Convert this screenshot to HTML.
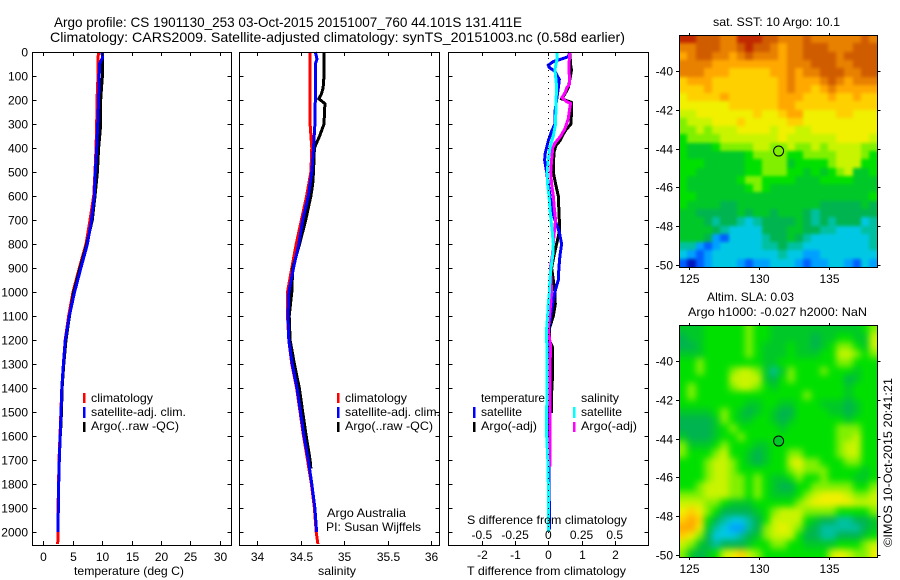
<!DOCTYPE html>
<html>
<head>
<meta charset="utf-8">
<title>Argo profile</title>
<style>
html,body{margin:0;padding:0;background:#fff;}
svg{display:block;}
text{font-family:"Liberation Sans",sans-serif;font-size:12px;fill:#000;}
</style>
</head>
<body>
<svg id="fig" width="900" height="580" viewBox="0 0 900 580" xmlns="http://www.w3.org/2000/svg">
<defs>
<filter id="sst-soften" x="-10%" y="-10%" width="120%" height="120%" color-interpolation-filters="sRGB"><feGaussianBlur stdDeviation="1.5"/></filter>
<filter id="sla-soften" x="-10%" y="-10%" width="120%" height="120%" color-interpolation-filters="sRGB"><feGaussianBlur stdDeviation="3.5"/></filter>
<clipPath id="sst-clip"><rect x="679" y="35" width="198" height="232"/></clipPath>
<clipPath id="sla-clip"><rect x="679" y="325" width="198" height="232"/></clipPath>
</defs>
<rect width="900" height="580" fill="#fff"/>
<text x="54" y="27" style="font-size:14px" textLength="468" lengthAdjust="spacingAndGlyphs">Argo profile: CS 1901130_253 03-Oct-2015 20151007_760 44.101S 131.411E</text>
<text x="50" y="42" style="font-size:14px" textLength="575" lengthAdjust="spacingAndGlyphs">Climatology: CARS2009. Satellite-adjusted climatology: synTS_20151003.nc (0.58d earlier)</text>
<g id="layer-maps"></g>
<g id="layer-lines"></g>
<g id="layer-axes"></g>

<text x="74" y="575" textLength="110" lengthAdjust="spacingAndGlyphs">temperature (deg C)</text>
<text x="318" y="575" textLength="38" lengthAdjust="spacingAndGlyphs">salinity</text>
<text x="467" y="575" textLength="159" lengthAdjust="spacingAndGlyphs">T difference from climatology</text>
<text x="467" y="524" textLength="160" lengthAdjust="spacingAndGlyphs">S difference from climatology</text>

<g>
<rect x="83" y="393" width="2.5" height="10" fill="#f00"/>
<rect x="83" y="407" width="2.5" height="11" fill="#00f"/>
<rect x="83" y="422" width="2.5" height="10" fill="#000"/>
<text x="91" y="402" textLength="62" lengthAdjust="spacingAndGlyphs">climatology</text>
<text x="91" y="416" textLength="95" lengthAdjust="spacingAndGlyphs">satellite-adj. clim.</text>
<text x="91" y="430" textLength="88" lengthAdjust="spacingAndGlyphs">Argo(..raw -QC)</text>
</g>
<g>
<rect x="337" y="393" width="2.5" height="10" fill="#f00"/>
<rect x="337" y="407" width="2.5" height="11" fill="#00f"/>
<rect x="337" y="422" width="2.5" height="10" fill="#000"/>
<text x="345" y="402" textLength="62" lengthAdjust="spacingAndGlyphs">climatology</text>
<text x="345" y="416" textLength="95" lengthAdjust="spacingAndGlyphs">satellite-adj. clim.</text>
<text x="345" y="430" textLength="88" lengthAdjust="spacingAndGlyphs">Argo(..raw -QC)</text>
<text x="327" y="517" textLength="79" lengthAdjust="spacingAndGlyphs">Argo Australia</text>
<text x="326" y="531" textLength="95" lengthAdjust="spacingAndGlyphs">PI: Susan Wijffels</text>
</g>
<g>
<text x="481" y="402" textLength="64" lengthAdjust="spacingAndGlyphs">temperature</text>
<rect x="473" y="407" width="2.5" height="11" fill="#00f"/>
<rect x="473" y="422" width="2.5" height="10" fill="#000"/>
<text x="481" y="416" textLength="41" lengthAdjust="spacingAndGlyphs">satellite</text>
<text x="481" y="430" textLength="56" lengthAdjust="spacingAndGlyphs">Argo(-adj)</text>
<text x="581" y="402" textLength="38" lengthAdjust="spacingAndGlyphs">salinity</text>
<rect x="573" y="407" width="2.5" height="11" fill="#0ff"/>
<rect x="573" y="422" width="2.5" height="10" fill="#f0f"/>
<text x="581" y="416" textLength="41" lengthAdjust="spacingAndGlyphs">satellite</text>
<text x="581" y="430" textLength="56" lengthAdjust="spacingAndGlyphs">Argo(-adj)</text>
</g>

<text x="713" y="26" textLength="127" lengthAdjust="spacingAndGlyphs">sat. SST: 10 Argo: 10.1</text>
<text x="707" y="301" textLength="87" lengthAdjust="spacingAndGlyphs">Altim. SLA: 0.03</text>
<text x="688" y="316" textLength="179" lengthAdjust="spacingAndGlyphs">Argo h1000: -0.027 h2000: NaN</text>
<text transform="translate(892,547) rotate(-90)" x="0" y="0" textLength="169" lengthAdjust="spacingAndGlyphs">©IMOS 10-Oct-2015 20:41:21</text>
</svg>

<script>
/* ---------- profile data ---------- */
const depthTicks = [0,100,200,300,400,500,600,700,800,900,1000,1100,1200,1300,1400,1500,1600,1700,1800,1900,2000];
const tempTicks = [0,5,10,15,20,25,30];
const salTicks = [34,34.5,35,35.5,36];
const salTickLabels = ["34","34.5","35","35.5","36"];
const tDiffTicks = [-2,-1,0,1,2];
const sDiffTicks = [-0.5,-0.25,0,0.25,0.5];
const sDiffTickLabels = ["-0.5","-0.25","0","0.25","0.5"];
const lonTicks = [125,130,135];
const latTicks = [-40,-42,-44,-46,-48,-50];

const climDepths = [0,100,200,300,400,500,600,700,800,900,1000,1100,1200,1300,1400,1500,1600,1700,1800,1900,2000,2050];
const tempClim = [9.35,9.3,9.13,9.08,8.96,8.8,8.57,7.94,7.26,6.12,5.05,4.3,3.72,3.42,3.15,3.0,2.84,2.67,2.6,2.5,2.5,2.45];
const salClim = [34.61,34.61,34.61,34.61,34.63,34.62,34.57,34.51,34.45,34.4,34.35,34.35,34.365,34.40,34.455,34.495,34.535,34.58,34.625,34.66,34.68,34.70];

const tempSatDepths = [0,25,50,100,200,300,400,500,600,700,800,900,1000,1100,1200,1300,1400,1500,1600,1700,1800,1900,2000];
const tempSat = [10.1,10.05,9.55,9.5,9.4,9.25,9.08,8.85,8.67,8.2,7.5,6.4,5.33,4.42,3.74,3.42,3.15,3.02,2.88,2.72,2.62,2.55,2.52];
const tempArgoDepths = [0,50,100,150,200,300,350,400,500,600,700,800,900,1000,1100,1200,1300,1400,1500,1600];
const tempArgo = [10.0,10.1,10.05,9.9,9.76,9.76,9.6,9.4,9.2,8.8,8.33,7.38,6.24,5.17,4.45,3.86,3.48,3.2,3.1,2.9];

const salSatDepths = [0,15,30,50,100,200,300,400,500,600,700,800,900,1000,1100,1200,1300,1400,1500,1600,1700,1800,1900,2000];
const salSat = [34.67,34.68,34.69,34.67,34.67,34.67,34.665,34.65,34.63,34.59,34.525,34.48,34.42,34.365,34.356,34.365,34.405,34.46,34.5,34.54,34.59,34.63,34.665,34.685];
const salArgoDepths = [0,100,150,175,195,215,300,350,400,500,550,600,700,800,900,1000,1100,1200,1300,1400,1500,1600,1700,1735];
const salArgo = [34.77,34.77,34.76,34.74,34.71,34.78,34.77,34.72,34.66,34.65,34.64,34.62,34.56,34.49,34.41,34.40,34.37,34.38,34.43,34.486,34.525,34.565,34.61,34.62];

const tDiffSatDepths = [0,20,40,55,65,80,115,150,200,250,300,330,370,420,450,500,550,600,650,700,750,800,850,900,950,1000,1033,1089,1144,1200,1300,1500,1700,1900,1990];
const tDiffSat = [0.65,0.6,0.15,0,0.03,0.2,0.33,0.3,0.25,0.2,0.2,0.1,0,-0.09,-0.11,-0.05,0,0.05,0.1,0.2,0.33,0.4,0.35,0.32,0.3,0.2,0.15,0.08,0.02,0,0,0,0.02,0.03,0.03];
const tDiffArgoDepths = [0,50,75,100,150,175,195,210,250,300,330,370,390,420,500,550,600,700,750,800,850,900,950,1000,1050,1100,1150,1200,1228,1367,1422,1505];
const tDiffArgo = [0.65,0.67,0.7,0.67,0.6,0.5,0.4,0.7,0.7,0.68,0.5,0.35,0.23,0.17,0.15,0.22,0.3,0.33,0.33,0.25,0.17,0.1,0.15,0.2,0.21,0.15,0.04,0.03,0.12,0.12,0.1,0.1];
const sDiffArgoDepths = [0,50,100,135,150,170,190,205,215,230,280,320,350,380,400,450,500,550,600,650,700,750,800,850,900,950,1000,1050,1100,1158,1228,1300,1727];
const sDiffArgo = [0.163,0.156,0.158,0.158,0.138,0.126,0.103,0.133,0.168,0.163,0.15,0.125,0.093,0.05,0.033,0.025,0.018,0.025,0.038,0.045,0.055,0.045,0.038,0.03,0.015,0.02,0.025,0.018,0.008,0,0.018,0.0125,0.0125];
const sDiffSatDepths = [0,25,50,75,100,150,200,300,350,400,450,500,550,600,650,700,750,800,850,900,950,1000,1050,1100,1150,1200,1300,1400,1500,1600,1700,1800,2000];
const sDiffSat = [0.063,0.068,0.058,0.05,0.055,0.063,0.058,0.055,0.038,0.012,0,-0.008,-0.005,0.005,0.012,0.02,0.03,0.038,0.033,0.02,0.012,0.008,0,-0.005,-0.012,-0.012,-0.008,-0.008,-0.0125,-0.012,-0.004,0,0];

/* ---------- map data: colour-class values, read cell by cell, north to south ---------- */
const sstGrid = [
[15,15,14,14,14,13,13,15,15,15,14,14,13,13,13,14,13,13,13,13,13,13,14,13],
[13,13,14,14,14,13,13,14,15,14,14,13,12,13,13,14,14,14,13,13,13,14,14,14],
[12,13,14,14,13,13,12,13,14,13,13,13,12,13,13,14,14,14,14,13,14,14,14,14],
[13,13,13,13,12,12,12,12,12,12,12,12,12,13,13,13,14,14,14,13,13,14,14,14],
[13,13,13,12,12,12,11,11,11,11,11,12,12,13,12,13,13,14,14,14,13,13,14,14],
[11,12,12,12,11,11,11,11,11,11,11,11,12,13,12,12,12,13,14,13,12,13,13,13],
[11,11,11,12,11,11,11,11,11,11,11,11,12,13,12,12,11,12,13,12,12,12,12,12],
[10,11,11,11,11,12,11,11,11,11,11,11,12,12,12,11,11,11,12,11,11,12,11,11],
[10,10,10,10,10,10,11,11,11,11,11,11,12,12,11,11,11,11,11,11,11,11,11,11],
[9,9,10,10,10,10,10,10,10,11,10,10,11,12,12,10,10,10,10,11,11,10,10,10],
[8,9,9,9,10,10,10,11,10,10,10,10,10,11,11,10,10,10,10,10,10,10,10,10],
[8,8,9,8,9,9,9,10,10,10,10,9,10,10,9,9,10,10,10,10,10,10,10,10],
[7,8,8,8,8,9,9,9,9,9,9,9,10,9,9,9,9,9,9,10,10,10,10,9],
[7,6,6,6,7,8,8,8,8,9,9,8,8,9,8,8,9,8,9,9,9,9,8,8],
[7,6,6,6,6,6,6,6,7,8,8,8,8,7,7,8,8,8,8,9,9,9,8,7],
[7,7,7,6,6,6,6,6,7,7,8,8,8,6,7,7,7,7,8,9,9,9,7,7],
[7,7,6,6,6,6,6,6,7,7,8,8,8,7,7,6,7,6,7,8,9,6,6,7],
[7,6,6,6,6,6,6,7,8,8,7,7,7,7,6,6,6,7,7,7,7,6,6,6],
[7,6,6,6,6,6,6,6,7,8,7,6,6,6,6,6,6,6,6,6,6,6,6,6],
[7,7,6,6,6,6,6,6,6,6,6,6,6,6,6,6,6,6,6,6,6,6,6,7],
[7,6,6,6,6,5,5,6,6,6,6,6,6,6,6,6,6,5,5,5,5,5,6,5],
[6,6,5,5,5,5,5,6,5,6,6,5,6,6,6,5,4,5,5,5,5,5,5,5],
[6,6,6,5,4,5,5,4,3,4,5,5,5,5,6,5,4,5,4,5,5,5,3,4],
[6,6,6,6,5,4,3,3,3,3,5,5,5,6,6,5,5,4,4,3,3,3,4,4],
[6,6,6,5,2,1,3,3,3,3,4,5,5,6,5,4,3,3,3,3,3,3,3,4],
[4,4,2,1,2,3,3,3,3,3,4,4,5,4,4,3,3,3,3,3,3,3,3,4],
[3,2,1,2,3,3,3,3,3,3,3,3,4,3,3,2,2,3,3,3,3,3,3,3],
[1,0,1,2,3,3,3,2,1,2,2,3,3,3,2,1,2,2,3,3,2,1,3,2]
];
const slaGrid = [
[6,6,6,7,7,7,7,7,8,7,7,6,6,6,6,6,6,6,6,6,6,6,7,8],
[5,6,6,7,7,7,7,7,8,7,7,6,6,6,6,6,5,6,6,7,7,6,6,9],
[5,5,6,7,7,7,7,7,8,7,6,6,6,7,6,6,5,6,7,8,8,7,6,9],
[6,6,6,7,7,7,7,7,8,7,6,6,6,7,6,6,6,7,7,9,9,8,7,8],
[7,7,8,7,7,7,7,7,7,7,6,6,7,7,7,7,7,7,7,8,8,7,7,7],
[7,7,8,7,7,7,8,9,9,8,6,4,6,8,7,7,7,8,7,7,7,6,7,7],
[7,7,7,7,7,7,9,9,9,9,6,5,7,8,7,7,7,7,7,7,5,6,7,7],
[7,8,7,7,7,7,8,9,9,8,7,6,7,7,7,7,7,7,7,7,6,7,7,7],
[7,8,7,7,7,7,7,7,7,7,7,7,7,7,7,8,7,7,7,7,6,7,7,7],
[7,7,7,7,7,7,7,7,6,6,7,7,6,6,7,7,7,6,6,6,5,6,7,7],
[6,6,6,6,7,8,7,6,5,6,7,6,5,5,7,7,7,7,6,6,5,6,7,7],
[5,5,5,5,6,8,7,6,6,7,7,6,5,6,7,7,7,7,7,7,6,7,7,7],
[5,5,5,5,6,7,8,7,7,7,7,7,6,7,7,7,7,7,7,8,8,8,7,7],
[6,5,5,5,6,7,7,8,7,7,7,7,7,7,7,7,7,7,7,8,8,9,7,7],
[8,6,6,6,7,8,7,7,7,6,6,7,7,7,7,7,7,7,7,8,9,9,7,7],
[8,7,7,7,8,9,7,7,6,5,6,7,7,8,8,7,7,7,7,8,9,9,7,7],
[7,7,7,8,9,9,8,7,6,5,6,7,7,9,10,8,8,7,7,7,8,8,7,7],
[7,7,7,8,9,9,8,7,7,7,7,7,7,8,9,8,8,8,7,7,7,7,6,7],
[7,7,7,8,9,9,8,8,7,8,7,6,6,7,8,7,7,8,7,7,7,6,6,7],
[7,7,8,9,9,9,8,8,7,8,7,6,5,5,7,7,8,8,8,8,8,7,7,8],
[8,8,8,9,9,9,8,8,7,8,7,6,6,6,7,8,9,10,10,10,9,8,8,9],
[9,9,9,8,8,7,6,6,6,7,7,7,7,7,8,9,10,10,10,10,10,9,9,9],
[10,11,10,8,7,5,5,5,5,6,7,8,9,9,9,8,8,8,8,7,7,7,7,8],
[11,12,11,7,5,4,3,3,4,5,7,9,9,9,9,7,6,5,5,4,4,5,5,6],
[12,12,10,6,4,3,2,2,4,5,8,9,10,9,8,6,5,4,4,4,4,4,5,6],
[11,10,8,5,3,3,3,4,5,6,8,9,9,9,7,5,5,4,4,5,5,5,6,7],
[9,8,6,5,4,5,5,5,6,7,7,8,8,7,7,6,6,6,6,7,7,7,8,9],
[8,6,5,6,7,9,10,11,9,8,7,7,7,7,7,7,7,7,9,10,9,8,8,10]
];
const colourClasses = ["#0018c0","#0060ff","#00a0ff","#00c8e4","#00c0a0","#00b450","#00c828","#00e000","#80f000","#c8f400","#f0f000","#ffd000","#ffa800","#e88000","#d05c00","#c02800"];
const floatLon = 131.411;
const floatLat = -44.101;
const sstAtFloat = 8;
const slaAtFloat = 6;

/* ---------- axis functions ---------- */
const NS = 'http://www.w3.org/2000/svg';
const linesLayer = document.getElementById('layer-lines');
const axesLayer = document.getElementById('layer-axes');
const mapsLayer = document.getElementById('layer-maps');
function depthY(d){ return 52 + d * 0.24; }
function tempX(t){ return 43.3 + t * 5.88; }
function salX(s){ return 257 + (s - 34) * 87; }
function tDiffX(t){ return 548.3 + t * 33.2; }
function sDiffX(s){ return 548.3 + s * 132.8; }
function lonX(lon){ return 689.3 + (lon - 125) * 13.93; }
function sstY(lat){ return 71 + (-40 - lat) * 19.4; }
function slaY(lat){ return 361 + (-40 - lat) * 19.4; }

function drawProfile(name, depths, values, xFn, colour){
  const el = document.createElementNS(NS, 'polyline');
  
  
  el.setAttribute('points', depths.map((d, i) => xFn(values[i]).toFixed(1) + ',' + depthY(d).toFixed(1)).join(' '));
  el.setAttribute('fill', 'none');
  el.setAttribute('stroke', colour);
  el.setAttribute('stroke-width', '3');
  el.setAttribute('shape-rendering', 'crispEdges');
  linesLayer.appendChild(el);
}
function addLine(name, x1, y1, x2, y2){
  const el = document.createElementNS(NS, 'line');
  
  
  el.setAttribute('x1', x1); el.setAttribute('y1', y1);
  el.setAttribute('x2', x2); el.setAttribute('y2', y2);
  el.setAttribute('stroke', '#000');
  el.setAttribute('shape-rendering', 'crispEdges');
  axesLayer.appendChild(el);
  return el;
}
function addLabel(name, x, y, anchor, str){
  const el = document.createElementNS(NS, 'text');
  
  
  el.setAttribute('x', x); el.setAttribute('y', y);
  el.setAttribute('text-anchor', anchor);
  el.textContent = str;
  axesLayer.appendChild(el);
}
function addFrame(name, x, y, w, h){
  const el = document.createElementNS(NS, 'rect');
  
  
  el.setAttribute('x', x); el.setAttribute('y', y);
  el.setAttribute('width', w); el.setAttribute('height', h);
  el.setAttribute('fill', 'none');
  el.setAttribute('stroke', '#000');
  el.setAttribute('shape-rendering', 'crispEdges');
  axesLayer.appendChild(el);
}

/* ---------- profile panels ---------- */
const panels = [
  {name:'temperature', left:32.5, right:231.5, ticks:tempTicks, labels:tempTicks.map(String), xFn:tempX, labelY:561, depthLabels:true},
  {name:'salinity', left:239.5, right:439.5, ticks:salTicks, labels:salTickLabels, xFn:salX, labelY:561, depthLabels:false},
  {name:'difference', left:448.5, right:648.5, ticks:tDiffTicks, labels:tDiffTicks.map(String), xFn:tDiffX, labelY:559, depthLabels:false}
];
panels.forEach(p => {
  addFrame(p.name + '-panel-frame', p.left, 52.5, p.right - p.left, 493);
  depthTicks.forEach(d => {
    const y = Math.round(depthY(d)) + 0.5;
    if (d > 0) {
      addLine(p.name + '-depth-tick-left', p.left, y, p.left + 4, y);
      addLine(p.name + '-depth-tick-right', p.right - 4, y, p.right, y);
    }
    if (p.depthLabels) addLabel('depth-tick-label', 28, y + 4, 'end', String(d));
  });
  p.ticks.forEach((t, i) => {
    const x = Math.round(p.xFn(t)) + 0.5;
    addLine(p.name + '-x-tick-bottom', x, 541, x, 545);
    addLine(p.name + '-x-tick-top', x, 52, x, 56);
    addLabel(p.name + '-x-tick-label', x, p.labelY, 'middle', p.labels[i]);
  });
});
sDiffTicks.forEach((s, i) => {
  addLabel('s-difference-tick-label', sDiffX(s), 539, 'middle', sDiffTickLabels[i]);
});

drawProfile('temperature-climatology-line', climDepths, tempClim, tempX, '#f00');
drawProfile('temperature-argo-line', tempArgoDepths, tempArgo, tempX, '#000');
drawProfile('temperature-satellite-line', tempSatDepths, tempSat, tempX, '#00f');
drawProfile('salinity-climatology-line', climDepths, salClim, salX, '#f00');
drawProfile('salinity-argo-line', salArgoDepths, salArgo, salX, '#000');
drawProfile('salinity-satellite-line', salSatDepths, salSat, salX, '#00f');

const zeroLine = addLine('zero-difference-line', 548.5, 52, 548.5, 545);
zeroLine.setAttribute('stroke-dasharray', '1 5');

drawProfile('t-difference-argo-line', tDiffArgoDepths, tDiffArgo, tDiffX, '#000');
drawProfile('t-difference-satellite-line', tDiffSatDepths, tDiffSat, tDiffX, '#00f');
drawProfile('s-difference-argo-line', sDiffArgoDepths, sDiffArgo, sDiffX, '#f0f');
drawProfile('s-difference-satellite-line', sDiffSatDepths, sDiffSat, sDiffX, '#0ff');

/* ---------- maps ---------- */
const lonWest = 124.27, lonEast = 138.5, latNorth = -38.15, latSouth = -50.1;
function drawMap(name, grid, yFn, floatColourClass, softenId, clipId){
  const rows = grid.length, cols = grid[0].length;
  const dLon = (lonEast - lonWest) / cols, dLat = (latNorth - latSouth) / rows;
  const clipGroup = document.createElementNS(NS, 'g');
  
  
  clipGroup.setAttribute('clip-path', 'url(#' + clipId + ')');
  const softGroup = document.createElementNS(NS, 'g');
  
  
  softGroup.setAttribute('filter', 'url(#' + softenId + ')');
  clipGroup.appendChild(softGroup);
  mapsLayer.appendChild(clipGroup);
  grid.forEach((row, r) => {
    row.forEach((v, c) => {
      /* edge cells run past the frame so softening never fades toward white */
      const x0 = Math.round(lonX(lonWest + c * dLon)) - (c === 0 ? 14 : 0);
      const x1 = Math.round(lonX(lonWest + (c + 1) * dLon)) + (c === cols - 1 ? 14 : 0);
      const y0 = Math.round(yFn(latNorth - r * dLat)) - (r === 0 ? 14 : 0);
      const y1 = Math.round(yFn(latNorth - (r + 1) * dLat)) + (r === rows - 1 ? 14 : 0);
      const cell = document.createElementNS(NS, 'rect');
      
      
      cell.setAttribute('x', x0);
      cell.setAttribute('y', y0);
      cell.setAttribute('width', x1 - x0);
      cell.setAttribute('height', y1 - y0);
      cell.setAttribute('fill', colourClasses[v]);
      cell.setAttribute('shape-rendering', 'crispEdges');
      softGroup.appendChild(cell);
    });
  });
  const top = yFn(latNorth), bottom = yFn(latSouth);
  const left = lonX(lonWest), right = lonX(lonEast);
  addFrame(name + '-frame', Math.round(left) + 0.5, Math.round(top) + 0.5, Math.round(right) - Math.round(left), Math.round(bottom) - Math.round(top));
  lonTicks.forEach(lon => {
    const x = Math.round(lonX(lon)) + 0.5;
    addLine(name + '-lon-tick-top', x, top - 2, x, top);
    addLine(name + '-lon-tick-bottom', x, bottom, x, bottom + 3);
    addLabel(name + '-lon-tick-label', x, bottom + 16, 'middle', String(lon));
  });
  latTicks.forEach(lat => {
    const y = Math.round(yFn(lat)) + 0.5;
    addLine(name + '-lat-tick-left', left - 3, y, left, y);
    addLine(name + '-lat-tick-right', right, y, right + 3, y);
    addLabel(name + '-lat-tick-label', 673, y + 4, 'end', String(lat));
  });
  const marker = document.createElementNS(NS, 'circle');
  
  
  marker.setAttribute('cx', lonX(floatLon));
  marker.setAttribute('cy', yFn(floatLat) + 0.5);
  marker.setAttribute('r', '5');
  marker.setAttribute('fill', colourClasses[floatColourClass]);
  marker.setAttribute('stroke', '#000');
  axesLayer.appendChild(marker);
}
drawMap('sst-map', sstGrid, sstY, sstAtFloat, 'sst-soften', 'sst-clip');
drawMap('sla-map', slaGrid, slaY, slaAtFloat, 'sla-soften', 'sla-clip');
</script>
</body>
</html>
